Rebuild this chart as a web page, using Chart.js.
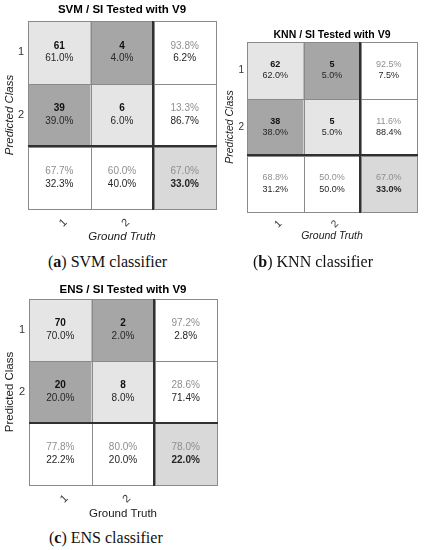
<!DOCTYPE html>
<html>
<head>
<meta charset="utf-8">
<script src="https://cdn.jsdelivr.net/npm/chart.js@4.4.1/dist/chart.umd.min.js"></script>
<style>
  html, body { margin: 0; padding: 0; background: #ffffff; }
  body { width: 424px; height: 550px; position: relative; overflow: hidden; }
  canvas { position: absolute; }
  .cap { position: absolute; font-family: "Liberation Serif", "DejaVu Serif", serif; font-size: 16px; line-height: 20px; color: #111; white-space: nowrap; }
</style>
</head>
<body>
<canvas id="svm" width="224" height="248" style="left:0px; top:0px;"></canvas>
<canvas id="knn" width="212" height="226" style="left:212px; top:22px;"></canvas>
<canvas id="ens" width="224" height="248" style="left:0px; top:278px;"></canvas>
<div class="cap" style="left:48px; top:252px;">(<b>a</b>) SVM classifier</div>
<div class="cap" style="left:253px; top:252px;">(<b>b</b>) KNN classifier</div>
<div class="cap" style="left:49px; top:528px;">(<b>c</b>) ENS classifier</div>
<script>
// ---------- DATA ----------
const classLabels = ['1', '2'];

const svmTitle = 'SVM / SI Tested with V9';
const svmCounts = [[61, 4], [39, 6]];
const svmCellPct = [[61.0, 4.0], [39.0, 6.0]];
const svmRowPct = [[93.8, 6.2], [13.3, 86.7]];
const svmColPct = [[67.7, 32.3], [60.0, 40.0]];
const svmTotalPct = [67.0, 33.0];

const knnTitle = 'KNN / SI Tested with V9';
const knnCounts = [[62, 5], [38, 5]];
const knnCellPct = [[62.0, 5.0], [38.0, 5.0]];
const knnRowPct = [[92.5, 7.5], [11.6, 88.4]];
const knnColPct = [[68.8, 31.2], [50.0, 50.0]];
const knnTotalPct = [67.0, 33.0];

const ensTitle = 'ENS / SI Tested with V9';
const ensCounts = [[70, 2], [20, 8]];
const ensCellPct = [[70.0, 2.0], [20.0, 8.0]];
const ensRowPct = [[97.2, 2.8], [28.6, 71.4]];
const ensColPct = [[77.8, 22.2], [80.0, 20.0]];
const ensTotalPct = [78.0, 22.0];

const xAxisTitle = 'Ground Truth';
const yAxisTitle = 'Predicted Class';

// ---------- STYLE ----------
const FONT = '"Liberation Sans", Arial, Helvetica, sans-serif';
const C_DIAG = '#e5e5e5';
const C_OFF = '#a6a6a6';
const C_MARGIN = '#ffffff';
const C_TOTAL = '#d9d9d9';
const C_THIN = '#8a8a8a';
const C_THICK = '#303030';
const C_TXT = '#262626';
const C_BOLD = '#111111';
const C_GRAY = '#8f8f8f';

function fmt(v) { return v.toFixed(1) + '%'; }

function buildMatrix(id, d, L) {
  const xLabels = classLabels.concat(['']);
  const n = xLabels.length;
  const cellColor = (r, c) => {
    if (r === n - 1 && c === n - 1) return C_TOTAL;
    if (r === n - 1 || c === n - 1) return C_MARGIN;
    return r === c ? C_DIAG : C_OFF;
  };
  const datasets = [];
  for (let r = 0; r < n; r++) {
    datasets.push({
      data: xLabels.map(() => 1),
      backgroundColor: xLabels.map((_, c) => cellColor(r, c)),
      borderWidth: 0,
      barPercentage: 1,
      categoryPercentage: 1,
      stack: 'm'
    });
  }
  const fs = L.cellFont;
  const cellPlugin = {
    id: 'cells_' + id,
    afterDatasetsDraw(chart) {
      const ctx = chart.ctx;
      const rects = [];
      for (let r = 0; r < n; r++) {
        const meta = chart.getDatasetMeta(r);
        rects.push(meta.data.map(el => {
          const p = el.getProps(['x', 'y', 'base', 'width'], true);
          return { l: p.x - p.width / 2, r: p.x + p.width / 2, t: Math.min(p.y, p.base), b: Math.max(p.y, p.base), cx: p.x, cy: (p.y + p.base) / 2 };
        }));
      }
      ctx.save();
      // thin grid
      ctx.strokeStyle = C_THIN;
      ctx.lineWidth = 1;
      rects.forEach(row => row.forEach(q => {
        ctx.strokeRect(Math.round(q.l) + 0.5, Math.round(q.t) + 0.5, Math.round(q.r - q.l), Math.round(q.b - q.t));
      }));
      // thick separators
      const ca = chart.chartArea;
      const xs = Math.round(rects[0][n - 1].l);
      const ys = Math.round(rects[n - 1][0].t);
      ctx.strokeStyle = C_THICK;
      ctx.lineWidth = 2;
      ctx.beginPath();
      ctx.moveTo(xs, Math.round(ca.top));
      ctx.lineTo(xs, Math.round(ca.bottom) + 1);
      ctx.moveTo(Math.round(ca.left), ys);
      ctx.lineTo(Math.round(ca.right) + 1, ys);
      ctx.stroke();
      // texts
      ctx.textAlign = 'center';
      ctx.textBaseline = 'middle';
      const dy = fs * 0.63;
      const put = (txt, x, y, bold, color) => {
        ctx.font = (bold ? 'bold ' : '') + fs + 'px ' + FONT;
        ctx.fillStyle = color;
        ctx.fillText(txt, x, y);
      };
      for (let r = 0; r < n; r++) {
        for (let c = 0; c < n; c++) {
          const q = rects[r][c];
          let a, b, aBold = false, bBold = false, aCol = C_TXT;
          if (r < n - 1 && c < n - 1) {
            a = String(d.counts[r][c]); aBold = true; aCol = C_BOLD;
            b = fmt(d.cellPct[r][c]);
          } else if (r < n - 1) {
            a = fmt(d.rowPct[r][0]); aCol = C_GRAY; b = fmt(d.rowPct[r][1]);
          } else if (c < n - 1) {
            a = fmt(d.colPct[c][0]); aCol = C_GRAY; b = fmt(d.colPct[c][1]);
          } else {
            a = fmt(d.total[0]); aCol = C_GRAY; b = fmt(d.total[1]); bBold = true;
          }
          put(a, q.cx, q.cy - dy, aBold, aCol);
          put(b, q.cx, q.cy + dy, bBold, C_TXT);
        }
      }
      ctx.restore();
    }
  };

  const axisTitleFont = { family: FONT, size: L.axisFont, style: L.italic ? 'italic' : 'normal' };
  new Chart(document.getElementById(id), {
    type: 'bar',
    data: { labels: xLabels, datasets },
    options: {
      responsive: false,
      animation: false,
      events: [],
      layout: { padding: { left: 0, top: 0, right: L.padRight, bottom: 0 } },
      plugins: {
        legend: { display: false },
        tooltip: { enabled: false },
        title: {
          display: true,
          text: d.title,
          fullSize: false,
          color: '#000000',
          font: { family: FONT, size: L.titleFont, weight: 'bold', lineHeight: 1.2 },
          padding: { top: L.titleTop, bottom: L.titleBottom }
        }
      },
      scales: {
        x: {
          stacked: true,
          grid: { display: false, drawTicks: false },
          border: { display: false },
          ticks: {
            minRotation: 45, maxRotation: 45,
            padding: L.xTickPad,
            labelOffset: L.xLabelOffset,
            color: '#333333',
            font: { family: FONT, size: L.tickFont }
          },
          title: {
            display: true,
            text: xAxisTitle,
            color: '#1a1a1a',
            font: axisTitleFont,
            padding: { top: 0, bottom: L.xTitleBottom }
          },
          afterFit: s => { s.height = L.xAxisH; }
        },
        y: {
          type: 'linear',
          stacked: true,
          min: 0,
          max: n,
          reverse: true,
          grid: { display: false, drawTicks: false },
          border: { display: false },
          afterBuildTicks: s => { s.ticks = classLabels.map((_, i) => ({ value: i + 0.5 })); },
          ticks: {
            callback: (v, i) => classLabels[i],
            padding: L.yTickPad,
            color: '#333333',
            font: { family: FONT, size: L.tickFont }
          },
          title: {
            display: true,
            text: yAxisTitle,
            color: '#1a1a1a',
            font: axisTitleFont,
            padding: { top: L.yTitlePad, bottom: 0 }
          },
          afterFit: s => { s.width = L.yAxisW; }
        }
      }
    },
    plugins: [cellPlugin]
  });
}

buildMatrix('svm',
  { title: svmTitle, counts: svmCounts, cellPct: svmCellPct, rowPct: svmRowPct, colPct: svmColPct, total: svmTotalPct },
  { padRight: 8, titleFont: 11.5, titleTop: 3, titleBottom: 4.2, yAxisW: 28, xAxisH: 39, cellFont: 10, axisFont: 11.5, tickFont: 11,
    italic: true, xTickPad: 7, xLabelOffset: 6, yTickPad: 4, yTitlePad: 3, xTitleBottom: 4.5 });

buildMatrix('knn',
  { title: knnTitle, counts: knnCounts, cellPct: knnCellPct, rowPct: knnRowPct, colPct: knnColPct, total: knnTotalPct },
  { padRight: 7, titleFont: 10.5, titleTop: 6.7, titleBottom: 0.7, yAxisW: 35, xAxisH: 36, cellFont: 9, axisFont: 10.5, tickFont: 10,
    italic: true, xTickPad: 6, xLabelOffset: 5, yTickPad: 3, yTitlePad: 11.7, xTitleBottom: 5.5 });

buildMatrix('ens',
  { title: ensTitle, counts: ensCounts, cellPct: ensCellPct, rowPct: ensRowPct, colPct: ensColPct, total: ensTotalPct },
  { padRight: 7, titleFont: 11.5, titleTop: 5.1, titleBottom: 2.1, yAxisW: 29, xAxisH: 41, cellFont: 10, axisFont: 11.5, tickFont: 11,
    italic: false, xTickPad: 7, xLabelOffset: 6, yTickPad: 4, yTitlePad: 3, xTitleBottom: 5.5 });
</script>
</body>
</html>
